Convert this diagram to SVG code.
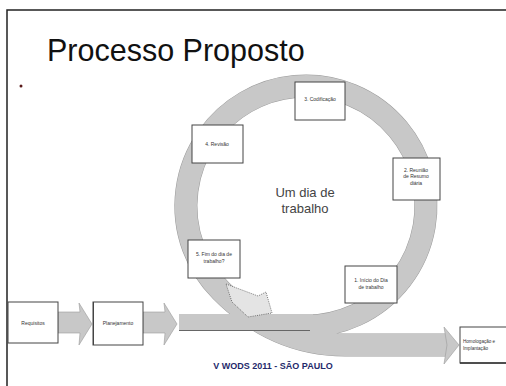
<svg xmlns="http://www.w3.org/2000/svg" width="506" height="386" viewBox="0 0 506 386">
<style>
.box{fill:#fff;stroke:#444;stroke-width:1}
.lbl{font-family:"Liberation Sans",Arial,sans-serif;font-size:5px;fill:#333;text-anchor:middle}
.lbl-l{font-family:"Liberation Sans",Arial,sans-serif;font-size:4.6px;fill:#333;text-anchor:start}
.ringline{fill:none;stroke:#c8c8c8;stroke-width:22}
.ringedge{fill:none;stroke:#9a9a9a;stroke-width:23}
.arrow{fill:#c8c8c8;stroke:#9a9a9a;stroke-width:0.6}
</style>
<rect width="506" height="386" fill="#fff"/>
<path d="M7,386 V10 H506" fill="none" stroke="#222" stroke-width="1.5"/>
<text x="47" y="61" font-family="Liberation Sans,Arial,sans-serif" font-size="30.5" fill="#111">Processo Proposto</text>
<circle cx="21" cy="86" r="1.5" fill="#5a1a1a"/>
<g id="connectors">
  <path class="ringedge" d="M306,326 A120,120 0 1 0 221.1,290.9 C250,320 290,345 345,345 L447,345"/>
  <path class="ringline" d="M306,326 A120,120 0 1 0 221.1,290.9 C250,320 290,345 345,345 L447,345"/>
  <polygon class="arrow" points="444,327 459,345 444,364 447,345"/>
  <rect x="179" y="314" width="134" height="16" fill="#c8c8c8"/>
  <line x1="179" y1="330.5" x2="310" y2="330.5" stroke="#666" stroke-width="1"/>
  <polygon class="arrow" points="58,312 80,312 79,303 92,324 79,345 80,333 58,333"/>
  <polygon class="arrow" points="143,312 165,312 164,303 177,324 164,345 165,333 143,333"/>
  <polygon points="226,284 258,296 266,292 272,313 248,317 232,302" fill="#e4e4e4" stroke="#555" stroke-width="0.8" stroke-dasharray="1 1.2"/>
</g>
<g id="center-label" font-family="Liberation Sans,Arial,sans-serif" font-size="13" fill="#444" text-anchor="middle">
  <text x="305" y="197">Um dia de</text>
  <text x="305" y="213">trabalho</text>
</g>
<g id="n-codificacao">
  <rect class="box" x="295" y="82" width="50" height="38"/>
  <text class="lbl" x="320" y="101">3. Codificação</text>
</g>
<g id="n-revisao">
  <rect class="box" x="192" y="125" width="51" height="38"/>
  <text class="lbl" x="217" y="146">4. Revisão</text>
</g>
<g id="n-reuniao">
  <rect class="box" x="393" y="158" width="47" height="42"/>
  <text class="lbl" x="416" y="172">2. Reunião</text>
  <text class="lbl" x="416" y="178">de Resumo</text>
  <text class="lbl" x="416" y="185">diária</text>
</g>
<g id="n-fim">
  <rect class="box" x="188" y="240" width="52" height="38"/>
  <text class="lbl" x="214" y="256">5. Fim do dia de</text>
  <text class="lbl" x="214" y="263">trabalho?</text>
</g>
<g id="n-inicio">
  <rect class="box" x="345" y="266" width="52" height="37"/>
  <text class="lbl" x="371" y="282">1. Início do Dia</text>
  <text class="lbl" x="371" y="289">de trabalho</text>
</g>
<g id="n-requisitos">
  <rect class="box" x="8" y="302" width="50" height="41"/>
  <text class="lbl" x="33" y="325">Requisitos</text>
</g>
<g id="n-planejamento">
  <rect class="box" x="93" y="302" width="50" height="43" stroke="#999"/>
  <line x1="93.5" y1="302" x2="93.5" y2="345" stroke="#444"/>
  <text class="lbl" x="118" y="325">Planejamento</text>
</g>
<g id="n-homologacao">
  <rect class="box" x="460" y="327" width="52" height="36"/>
  <line x1="460" y1="363" x2="506" y2="363" stroke="#333" stroke-width="1.5"/>
  <text class="lbl-l" x="463" y="343">Homologação e</text>
  <text class="lbl-l" x="463" y="350">Implantação</text>
</g>
<text x="273" y="369" font-family="Liberation Sans,Arial,sans-serif" font-size="9" font-weight="bold" fill="#1f2a6b" text-anchor="middle">V WODS 2011 - SÃO PAULO</text>
</svg>
